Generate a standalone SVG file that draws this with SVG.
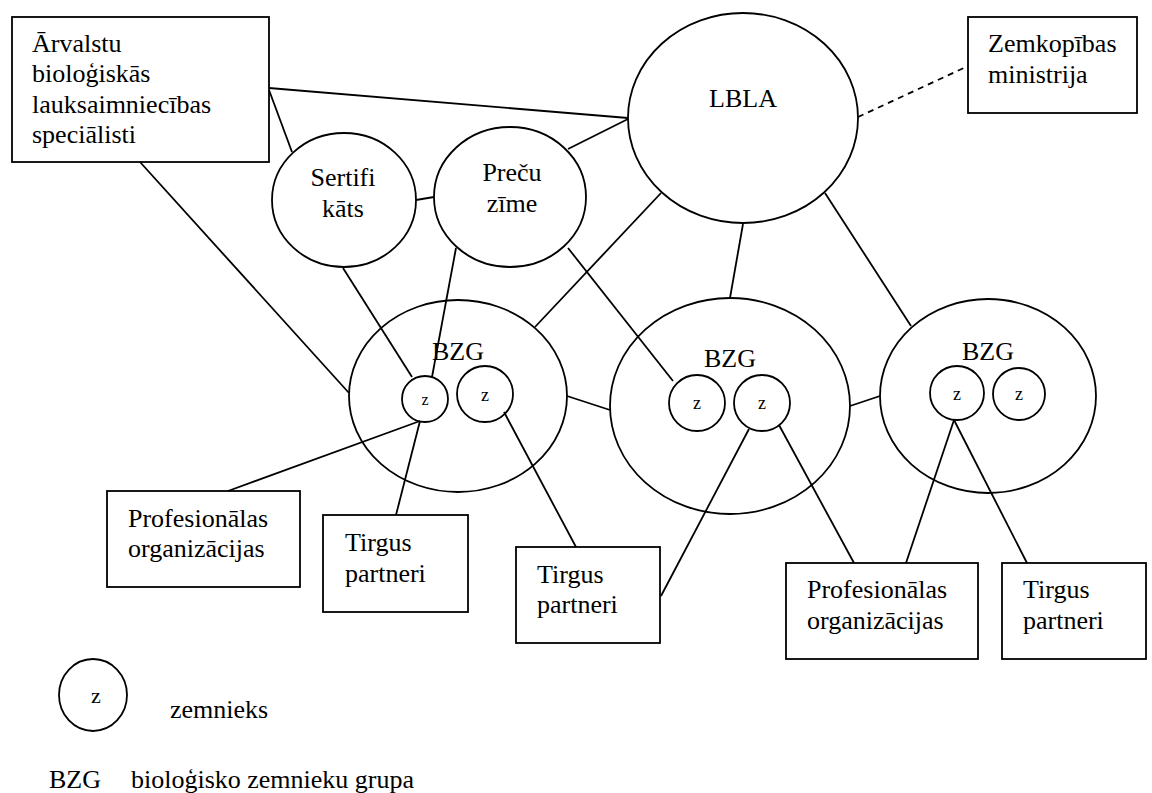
<svg xmlns="http://www.w3.org/2000/svg" width="1152" height="793" viewBox="0 0 1152 793">
<style>
.s{fill:none;stroke:#000;stroke-width:1.8}
.c line{stroke:#000;stroke-width:1.8}
.d{stroke-dasharray:6 5}
text{font-family:'Liberation Serif','Times New Roman',serif;font-size:26px;fill:#000}
.m{text-anchor:middle}
.z{font-size:18px;text-anchor:middle}
</style>
<rect width="1152" height="793" fill="#fff"/>
<g class="c" id="connectors">
<line x1="269" y1="88" x2="628" y2="118"/>
<line x1="269" y1="90" x2="292" y2="152"/>
<line x1="140" y1="162" x2="349" y2="393"/>
<line x1="568" y1="149" x2="628" y2="119"/>
<line x1="416" y1="200" x2="434" y2="197"/>
<line x1="343" y1="268" x2="412" y2="377"/>
<line x1="456" y1="248" x2="432" y2="377"/>
<line x1="568" y1="248" x2="673" y2="381"/>
<line x1="661" y1="193" x2="535" y2="327"/>
<line x1="743" y1="224" x2="730" y2="298"/>
<line x1="825" y1="193" x2="911" y2="326"/>
<line x1="567" y1="396" x2="610" y2="410"/>
<line x1="850" y1="406" x2="880" y2="396"/>
<line x1="420" y1="421" x2="228" y2="491"/>
<line x1="420" y1="421" x2="396" y2="515"/>
<line x1="504" y1="412" x2="576" y2="547"/>
<line x1="749" y1="429" x2="661" y2="596"/>
<line x1="779" y1="425" x2="854" y2="563"/>
<line x1="954" y1="420" x2="906" y2="563"/>
<line x1="954" y1="420" x2="1027" y2="563"/>
<line class="d" x1="858" y1="117" x2="966" y2="67"/>
</g>
<g id="arvalstu">
<rect class="s" x="12" y="17" width="257" height="145"/>
<text x="32" y="52">Ārvalstu</text>
<text x="32" y="82">bioloģiskās</text>
<text x="32" y="113">lauksaimniecības</text>
<text x="32" y="143">speciālisti</text>
</g>
<g id="lbla">
<ellipse class="s" cx="743" cy="118" rx="115" ry="105"/>
<text class="m" x="743" y="107">LBLA</text>
</g>
<g id="zemkopibas">
<rect class="s" x="968" y="17" width="169" height="96"/>
<text x="988" y="52">Zemkopības</text>
<text x="988" y="83">ministrija</text>
</g>
<g id="sertifikats">
<ellipse class="s" cx="344" cy="200" rx="72" ry="67"/>
<text class="m" x="343" y="186">Sertifi</text>
<text class="m" x="343" y="217">kāts</text>
</g>
<g id="precu-zime">
<ellipse class="s" cx="510" cy="197" rx="76" ry="70"/>
<text class="m" x="512" y="181">Preču</text>
<text class="m" x="512" y="212">zīme</text>
</g>
<g id="bzg1">
<ellipse class="s" cx="458" cy="396" rx="109" ry="96"/>
<text class="m" x="458" y="360">BZG</text>
<circle class="s" cx="425" cy="399" r="23"/>
<text class="z" x="425" y="405" style="font-size:16px">z</text>
<circle class="s" cx="485" cy="394" r="28"/>
<text class="z" x="485" y="401">z</text>
</g>
<g id="bzg2">
<ellipse class="s" cx="730" cy="406" rx="120" ry="108"/>
<text class="m" x="730" y="367">BZG</text>
<circle class="s" cx="697" cy="403" r="28"/>
<text class="z" x="697" y="409">z</text>
<circle class="s" cx="762" cy="403" r="28"/>
<text class="z" x="762" y="409">z</text>
</g>
<g id="bzg3">
<ellipse class="s" cx="988" cy="396" rx="108" ry="97"/>
<text class="m" x="988" y="360">BZG</text>
<circle class="s" cx="957" cy="393" r="27"/>
<text class="z" x="957" y="400">z</text>
<circle class="s" cx="1019" cy="394" r="26"/>
<text class="z" x="1019" y="400">z</text>
</g>
<g id="prof1">
<rect class="s" x="107" y="491" width="193" height="96"/>
<text x="128" y="527">Profesionālas</text>
<text x="128" y="557">organizācijas</text>
</g>
<g id="tirgus1">
<rect class="s" x="323" y="515" width="145" height="97"/>
<text x="345" y="551">Tirgus</text>
<text x="345" y="582">partneri</text>
</g>
<g id="tirgus2">
<rect class="s" x="516" y="547" width="144" height="96"/>
<text x="537" y="583">Tirgus</text>
<text x="537" y="613">partneri</text>
</g>
<g id="prof2">
<rect class="s" x="786" y="563" width="192" height="96"/>
<text x="807" y="598">Profesionālas</text>
<text x="807" y="629">organizācijas</text>
</g>
<g id="tirgus3">
<rect class="s" x="1002" y="563" width="144" height="96"/>
<text x="1023" y="598">Tirgus</text>
<text x="1023" y="629">partneri</text>
</g>
<g id="legend">
<ellipse class="s" cx="93" cy="695" rx="34" ry="36"/>
<text class="z" x="96" y="703" style="font-size:22px">z</text>
<text x="170" y="718">zemnieks</text>
<text x="49" y="788">BZG</text>
<text x="131" y="788">bioloģisko zemnieku grupa</text>
</g>
</svg>
